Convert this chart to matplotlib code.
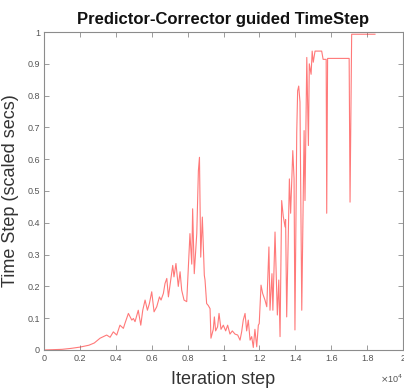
import matplotlib
matplotlib.use("Agg")
import matplotlib.pyplot as plt
from matplotlib.ticker import FixedLocator, FuncFormatter

# iteration steps (x 1e4) and scaled time step values
steps_e4 = [0.000, 0.050, 0.100, 0.150, 0.200, 0.250, 0.280, 0.312, 0.349, 0.368,
            0.386, 0.405, 0.423, 0.442, 0.451, 0.470, 0.489, 0.498, 0.507, 0.525,
            0.539, 0.550, 0.563, 0.576, 0.587, 0.600, 0.613, 0.628, 0.643, 0.652,
            0.665, 0.674, 0.684, 0.693, 0.706, 0.717, 0.724, 0.735, 0.748, 0.758,
            0.767, 0.780, 0.795, 0.804, 0.813, 0.823, 0.828, 0.837, 0.851, 0.860,
            0.866, 0.873, 0.882, 0.893, 0.897, 0.906, 0.915, 0.925, 0.930, 0.943,
            0.949, 0.956, 0.967, 0.975, 0.986, 0.999, 1.012, 1.023, 1.036, 1.049,
            1.064, 1.079, 1.092, 1.101, 1.110, 1.120, 1.129, 1.138, 1.148, 1.157,
            1.166, 1.175, 1.185, 1.194, 1.199, 1.209, 1.218, 1.231, 1.241, 1.253,
            1.259, 1.270, 1.275, 1.287, 1.300, 1.308, 1.315, 1.324, 1.333, 1.343,
            1.346, 1.352, 1.367, 1.374, 1.386, 1.393, 1.398, 1.408, 1.413, 1.419,
            1.426, 1.436, 1.449, 1.454, 1.464, 1.473, 1.478, 1.488, 1.494, 1.500,
            1.510, 1.547, 1.555, 1.572, 1.575, 1.580, 1.700, 1.705, 1.714, 1.844]
timestep = [0.000, 0.001, 0.002, 0.005, 0.009, 0.015, 0.022, 0.037, 0.047, 0.040,
            0.057, 0.047, 0.078, 0.068, 0.084, 0.115, 0.094, 0.099, 0.089, 0.125,
            0.078, 0.125, 0.157, 0.125, 0.146, 0.183, 0.120, 0.136, 0.167, 0.157,
            0.178, 0.209, 0.225, 0.167, 0.220, 0.266, 0.230, 0.272, 0.200, 0.246,
            0.188, 0.157, 0.152, 0.256, 0.366, 0.270, 0.444, 0.240, 0.366, 0.564,
            0.606, 0.292, 0.418, 0.235, 0.220, 0.146, 0.140, 0.130, 0.037, 0.065,
            0.104, 0.060, 0.073, 0.115, 0.065, 0.078, 0.060, 0.078, 0.050, 0.060,
            0.050, 0.047, 0.031, 0.057, 0.094, 0.115, 0.060, 0.094, 0.031, 0.042,
            0.008, 0.065, 0.010, 0.078, 0.083, 0.204, 0.178, 0.157, 0.136, 0.324,
            0.125, 0.240, 0.125, 0.371, 0.110, 0.220, 0.042, 0.470, 0.420, 0.387,
            0.410, 0.104, 0.538, 0.430, 0.627, 0.540, 0.063, 0.684, 0.815, 0.830,
            0.780, 0.125, 0.690, 0.470, 0.920, 0.643, 0.900, 0.867, 0.940, 0.905,
            0.940, 0.940, 0.914, 0.914, 0.430, 0.917, 0.917, 0.465, 0.993, 0.993]

xticks = [0, 2000, 4000, 6000, 8000, 10000, 12000, 14000, 16000, 18000, 20000]
yticks = [0, 0.1, 0.2, 0.3, 0.4, 0.5, 0.6, 0.7, 0.8, 0.9, 1.0]

steps = [s * 1e4 for s in steps_e4]

plt.rcParams['font.family'] = ['Liberation Sans', 'DejaVu Sans']

fig = plt.figure(figsize=(4.04, 3.89), dpi=100)
ax = fig.add_axes([0.109, 0.1003, 0.8885, 0.8174])

ax.plot(steps, timestep, color='#ff2020', alpha=0.6, linewidth=0.8)

ax.set_xlim(0, 20000)
ax.set_ylim(0, 1)
ax.xaxis.set_major_locator(FixedLocator(xticks))
ax.yaxis.set_major_locator(FixedLocator(yticks))
ax.xaxis.set_major_formatter(FuncFormatter(lambda v, p: f"{v/1e4:g}"))
ax.yaxis.set_major_formatter(FuncFormatter(lambda v, p: f"{v:g}"))

gray = '#8c8c8c'
for s in ax.spines.values():
    s.set_color(gray)
    s.set_linewidth(0.8)
ax.tick_params(direction='in', top=True, right=True, length=3.5, width=0.6,
               color=gray, labelcolor='#555555', labelsize=6.5, pad=3)

ax.text(1.0, -0.072, r'$\times$10$^4$', transform=ax.transAxes, ha='right',
        va='top', fontsize=6.5, color='#555555')

ax.set_xlabel('Iteration step', fontsize=13, color='#333333', labelpad=6)
ax.set_ylabel('Time Step (scaled secs)', fontsize=13, color='#333333', labelpad=6)
ax.set_title('Predictor-Corrector guided TimeStep', fontsize=12,
             fontweight='bold', color='#111111', pad=6)

fig.savefig('out.png', dpi=100)
